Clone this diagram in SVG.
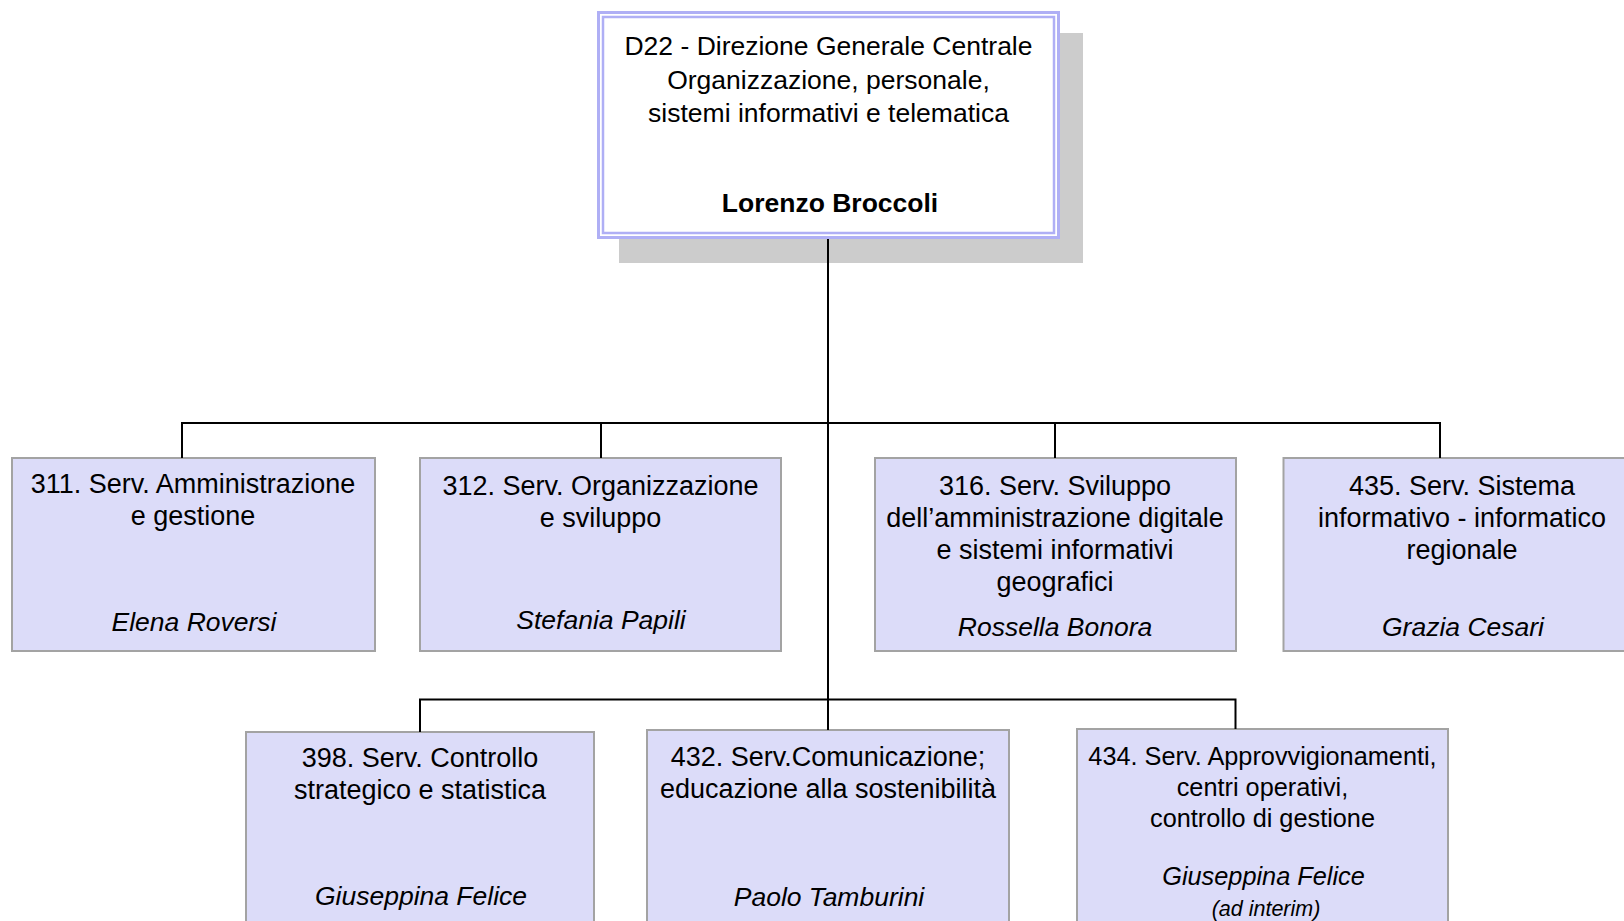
<svg xmlns="http://www.w3.org/2000/svg" width="1624" height="921" viewBox="0 0 1624 921">
<style>
text{font-family:"Liberation Sans",Arial,sans-serif;font-size:26.5px;fill:#000;text-anchor:middle}
.t{font-size:27px}
.nm{font-style:italic}
.bd{font-weight:bold}
.box{fill:#DCDCF9;stroke:#A3A3A3;stroke-width:2}
.con{stroke:#000;stroke-width:2;fill:none}
</style>
<rect width="1624" height="921" fill="#fff"/>
<g id="n-d22">
<rect x="619" y="33" width="464" height="230" fill="#CCCCCC"/>
<rect x="597" y="11" width="463" height="228" fill="#fff"/>
<rect x="598.5" y="12.5" width="460" height="225" fill="none" stroke="#AFAFF5" stroke-width="3"/>
<rect x="603" y="17" width="451" height="216" fill="none" stroke="#AFAFF5" stroke-width="2.5"/>
<text x="828.5" y="55">D22 - Direzione Generale Centrale</text>
<text x="828.5" y="89">Organizzazione, personale,</text>
<text x="828.5" y="122">sistemi informativi e telematica</text>
<text class="bd" x="830" y="212">Lorenzo Broccoli</text>
</g>
<g id="n-311">
<rect class="box" x="12" y="458" width="363" height="193"/>
<text class="t" x="193" y="493">311. Serv. Amministrazione</text>
<text class="t" x="193" y="525">e gestione</text>
<text class="nm" x="194" y="631">Elena Roversi</text>
</g>
<g id="n-312">
<rect class="box" x="420" y="458" width="361" height="193"/>
<text class="t" x="600.5" y="495">312. Serv. Organizzazione</text>
<text class="t" x="600.5" y="527">e sviluppo</text>
<text class="nm" x="601" y="629">Stefania Papili</text>
</g>
<g id="n-316">
<rect class="box" x="875" y="458" width="361" height="193"/>
<text class="t" x="1055" y="495">316. Serv. Sviluppo</text>
<text class="t" x="1055" y="527">dell’amministrazione digitale</text>
<text class="t" x="1055" y="559">e sistemi informativi</text>
<text class="t" x="1055" y="591">geografici</text>
<text class="nm" x="1055" y="636">Rossella Bonora</text>
</g>
<g id="n-435">
<rect class="box" x="1283.5" y="458" width="363" height="193"/>
<text class="t" x="1462" y="495">435. Serv. Sistema</text>
<text class="t" x="1462" y="527">informativo - informatico</text>
<text class="t" x="1462" y="559">regionale</text>
<text class="nm" x="1463" y="636">Grazia Cesari</text>
</g>
<g id="n-398">
<rect class="box" x="246" y="732" width="348" height="200"/>
<text class="t" x="420" y="767">398. Serv. Controllo</text>
<text class="t" x="420" y="799">strategico e statistica</text>
<text class="nm" x="421" y="905">Giuseppina Felice</text>
</g>
<g id="n-432">
<rect class="box" x="647" y="730" width="362" height="200"/>
<text class="t" x="828" y="766">432. Serv.Comunicazione;</text>
<text class="t" x="828" y="798">educazione alla sostenibilità</text>
<text class="nm" x="829" y="906">Paolo Tamburini</text>
</g>
<g id="n-434">
<rect class="box" x="1077" y="729" width="371" height="200"/>
<text x="1262.5" y="765" style="font-size:25.3px">434. Serv. Approvvigionamenti,</text>
<text x="1262.5" y="796" style="font-size:25.3px">centri operativi,</text>
<text x="1262.5" y="827" style="font-size:25.3px">controllo di gestione</text>
<text class="nm" x="1263.5" y="885" style="font-size:25.3px">Giuseppina Felice</text>
<text class="nm" x="1266" y="916" style="font-size:21.5px">(ad interim)</text>
</g>
<g id="connectors">
<path class="con" d="M828 239 V700"/>
<path class="con" d="M182 458 V423 H1440 V458"/>
<path class="con" d="M601 458 V423"/>
<path class="con" d="M1055 458 V423"/>
<path class="con" d="M420 732 V699.5 H1235.5 V729"/>
<path class="con" d="M828 699 V730"/>
</g>
</svg>
